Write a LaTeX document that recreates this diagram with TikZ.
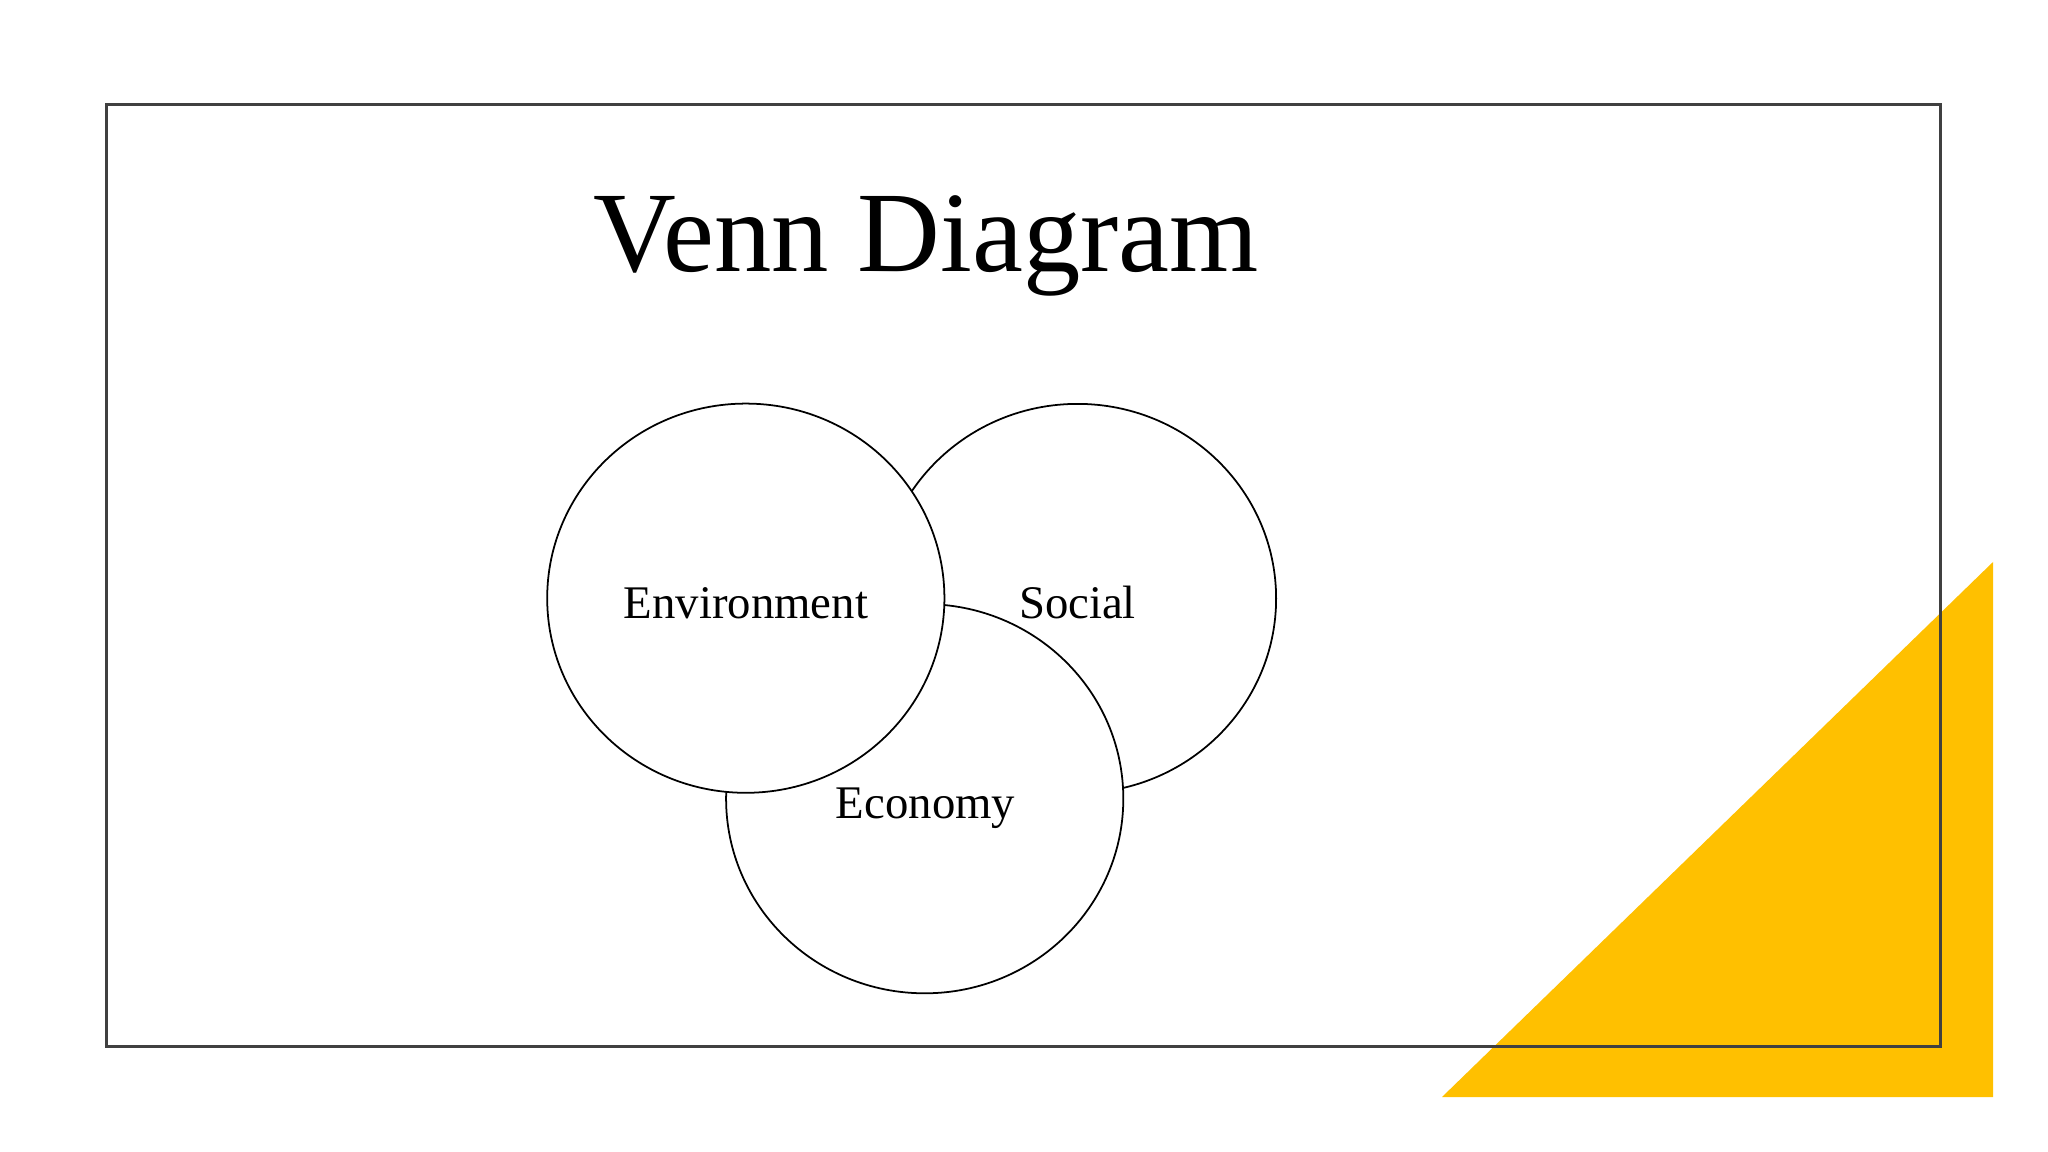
\documentclass[tikz,border=0pt]{standalone}
\usepackage{fontspec}
\setmainfont{Liberation Serif}
\usetikzlibrary{shapes.geometric}
\definecolor{accentyellow}{HTML}{FFC000}
\definecolor{framegray}{HTML}{404040}
\begin{document}
\begin{tikzpicture}[x=0.01cm,y=-0.01cm,
  framebox/.style={draw=framegray, line width=0.85pt},
  venn/.style={ellipse, draw=black, fill=white, line width=0.5pt,
    minimum width=3.97cm, minimum height=3.89cm, inner sep=0pt},
  vennlabel/.style={anchor=base, inner sep=0pt, font=\fontsize{13.3pt}{15pt}\selectfont},
  titletext/.style={anchor=base, inner sep=0pt, font=\fontsize{32.6pt}{38pt}\selectfont}]
\useasboundingbox (0,0) rectangle (2048,1152);
% yellow triangle
\fill[accentyellow] (1442,1097) -- (1993,1097) -- (1993,562) -- cycle;
% frame
\node[framebox, minimum width=18.325cm, minimum height=9.417cm, inner sep=0pt] (frame) at (1023.4,575.4) {};
% title
\node[titletext] (title) at (926,272) {Venn Diagram};
% circles
\node[venn] (social) at (1077.5,598.5) {};
\node[venn] (economy) at (924.7,798.7) {};
\node[venn] (environment) at (745.8,598.2) {};
% labels
\node[vennlabel] (envlabel) at (746,619) {Environment};
\node[vennlabel] (soclabel) at (1077.5,619) {Social};
\node[vennlabel] (ecolabel) at (925.5,818) {Economy};
\end{tikzpicture}
\end{document}
